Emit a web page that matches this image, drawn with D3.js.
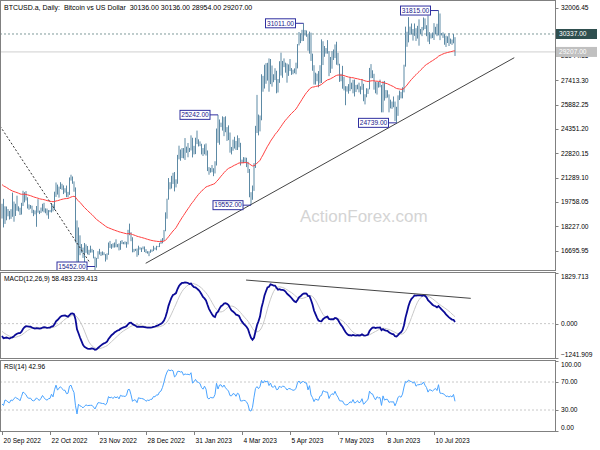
<!DOCTYPE html>
<html><head><meta charset="utf-8">
<script src="https://cdn.jsdelivr.net/npm/d3@7"></script>
<style>
body{margin:0;background:#fff}
text{font-family:"Liberation Sans",Arial,sans-serif;fill:#000}
</style>
</head><body>
<svg id="c" width="600" height="450"></svg>
<script>
// ---------- DATA ----------
const headerText = "BTCUSD.a, Daily:  Bitcoin vs US Dollar  30136.00 30136.00 28954.00 29207.00";
const dateTickLabels = ["20 Sep 2022","22 Oct 2022","23 Nov 2022","28 Dec 2022","31 Jan 2023","4 Mar 2023","5 Apr 2023","7 May 2023","8 Jun 2023","10 Jul 2023"];
const dateTickIndex = [0,32,64,96,128,160,192,224,256,288];
const priceTicks = [32006.45,30475.40,28944.35,27413.30,25882.25,24351.20,22820.15,21289.10,19758.05,18227.00,16695.95];
const macdTicks = [1829.713,0,-1241.909];
const rsiTicks = [100,70,30,0];
const rsiLevels = [70,30];
const bidPrice = 29207.00;
const levelPrice = 30337.00;
const markIndex = [62,144,166,201,263,291];
const markValue = [15452,25242,19552,31011,24739,31815];
const trendUpIdx = [95.8,341.5], trendUpVal = [15890,28843];
const trendDownIdx = [-1.3,58.7], trendDownVal = [24540,15909];
const macdTrendIdx = [162.7,312.5], macdTrendVal = [1575,914];
const macdLabel = "MACD(12,26,9) 58.483 239.413";
const rsiLabel = "RSI(14) 42.96";

// closes before the first visible bar (Jul 1 - Sep 19 2022), used only to seed indicators
const warmupCloses = [19300,19240,19300,20230,20190,20550,21620,21600,21590,20850,19970,19330,20210,20570,20830,21190,20780,22480,23390,23230,23160,22680,22450,22580,21310,21250,22950,23850,23780,23640,23300,
23270,22980,22820,22620,23310,22950,23170,23810,23160,23950,23940,24400,24440,24300,24100,23850,23340,23190,20830,21140,21520,21400,21530,21370,21600,20260,20040,19550,20280,19800,20050,
20130,19950,19830,19990,19800,18840,19290,19320,21360,21650,21830,22400,20180,20240,19700,19800,20130,19420,19540];

const highs = [
19640,19950,19480,19470,19310,19190,19300,20340,19780,19640,20150,
19480,19390,19700,20460,20370,20440,20050,19600,19560,19520,19260,19220,19500,19930,19210,19400,19640,19700,19350,19340,19240,19250,19690,19600,20400,20980,20850,20720,21000,20900,20800,
20620,20790,20390,21300,21470,21360,21050,20670,18590,18150,17650,17100,16880,17170,17080,16980,16740,17000,16800,16730,16300,16230,16650,16800,16610,16640,16580,16470,16520,17200,
17300,17100,17150,17200,17400,17100,17140,17300,17350,17230,17270,17240,18000,18390,17850,17530,16800,16800,16820,17000,16900,16870,16950,16950,16780,16650,16650,
16760,16760,16990,16880,16990,16970,17180,17390,17480,17990,19100,19960,21260,21000,21400,21590,21640,21180,22720,23300,23060,23150,23150,23780,23240,23470,23160,23950,23800,23290,
23800,24250,23700,23570,23420,23150,23380,23440,23000,21950,21900,22080,21880,22320,24380,25242,24950,24750,25150,25100,25150,24470,24580,24130,23220,23680,23860,23600,
23950,23780,23480,22420,22580,22560,22540,22280,21830,20370,20790,22200,24550,26500,25260,25200,27800,27700,28400,28500,28520,28800,28760,28350,27800,28180,28020,27500,28620,29160,28640,
28800,28530,28480,28420,28760,28190,28090,28170,28530,29700,30460,30380,30600,31011,30590,30560,30320,30490,30420,29100,28370,27900,27840,28000,28370,30000,29880,29580,29450,29950,
29260,28890,29260,29360,29680,29850,29150,28460,27830,28330,27640,27050,27040,27180,27620,27270,27450,27470,27130,27150,27270,27040,27500,27200,26540,26920,26900,28200,28440,28050,27830,
27330,27300,27320,27460,27130,27350,27380,26810,26790,26530,26200,26080,26400,26080,25750,26470,26770,26690,26980,28400,30800,30480,31400,30800,31000,30650,31000,30700,30850,31260,
30650,30780,31380,31320,30890,31500,30450,30380,30430,31020,30790,30980,31815,31630,30400,30440,30340,30230,30190,30400,30050,29990,30340,30136];
const lows = [
18710,18150,18370,18600,18850,18650,18690,18820,18510,18870,19200,
19160,18930,18960,19500,19730,19850,19340,19260,19330,19050,18860,18970,18190,19080,18990,19060,19160,19100,19040,18910,18690,19110,19090,19160,19250,20070,20220,20030,20570,20520,20250,
20340,20060,20050,20200,21100,20900,20400,17200,15700,15750,16400,16560,16230,15820,16550,16450,16410,16560,16570,16200,15452,15620,16170,16440,16350,16400,16400,16000,16120,16420,
16860,16800,16880,16880,16900,16900,16700,16740,17100,17090,17080,16870,17080,17660,17280,16580,16590,16670,16300,16400,16750,16600,16770,16600,16530,16500,16340,
16550,16610,16660,16750,16710,16910,16910,17110,17150,17320,17910,18700,19900,20550,20600,20890,20420,20670,20900,22440,22350,22520,22500,22400,22850,22570,22900,23000,22560,22750,
22770,23400,23250,23270,22750,22650,22760,22680,21700,21470,21600,21630,21380,21550,22050,23480,23360,24470,24250,23900,24150,23600,23650,22860,22750,22980,23120,23030,
23030,23200,22050,22200,22200,22260,21950,21580,20050,19552,19890,20450,21900,24100,23950,24200,24900,26700,26900,27200,27400,26700,27180,27020,27300,27430,26600,26650,27260,27720,27580,
28250,27900,27270,27700,28000,27760,27800,27870,27800,28170,29620,29760,29890,29900,30240,30160,29280,29100,28640,28020,27150,27150,27360,26980,27220,27250,28380,28900,29100,29100,
27680,27880,28150,28700,28820,28400,28360,27320,27360,26890,26780,25850,26710,26580,26740,26860,26600,26400,26680,26850,26660,26540,26820,26100,25900,26350,26560,26850,27550,27560,26830,
26600,26520,26960,26980,25400,25400,26140,26290,26330,25400,25650,25620,25720,24850,24739,25180,26180,26280,26280,26660,28280,29530,29810,30280,30300,29920,30220,29900,30050,29600,
30330,30200,30570,30650,30200,29850,29700,30050,30080,29960,30310,30200,30250,29950,30250,30090,29660,29520,29770,29580,29720,29650,29750,28954];
const closes = [
18880,18500,19410,19290,18920,18800,19230,19080,19410,19590,19420,
19310,19040,19630,20340,20160,19960,19530,19420,19450,19140,19060,19150,19380,19180,19070,19270,19550,19330,19130,19050,19170,19200,19570,19330,20090,20770,20290,20600,20810,20630,20490,
20480,20160,20210,21150,21300,20920,20600,18540,15880,17590,17050,16810,16330,16620,16860,16650,16680,16690,16700,16280,15780,16190,16610,16600,16520,16460,16440,16220,16440,17160,
16980,17090,16890,17110,16970,17090,16840,17220,17130,17130,17100,17200,17790,17810,17360,16630,16780,16740,16440,16900,16830,16820,16780,16710,16550,16630,16600,
16670,16680,16850,16830,16950,16940,17130,17190,17450,17940,18850,19930,20950,20870,21170,21130,20680,21070,22670,22780,22710,22920,22630,23050,23010,23080,23030,23740,22830,23130,
23730,23490,23430,23330,22930,22760,23260,22950,21800,21630,21860,21780,21790,22200,24330,23520,24570,24630,24280,24840,24440,24190,23950,23200,23160,23560,23490,23140,
23650,23480,22360,22350,22430,22410,22200,21700,20360,20190,20630,22140,24200,24770,24380,25050,27440,26930,28040,27800,28170,27300,28330,27490,27490,27990,27140,27270,28350,28030,28470,
28450,28200,27800,28170,28170,28030,27920,27950,28330,29650,30230,29890,30400,30480,30320,30320,29440,30390,28820,28250,27280,27820,27590,27510,28300,28420,29480,29340,29240,29230,
28070,28680,29020,28840,29530,28900,28450,27700,27630,27630,27020,26800,26790,26930,27170,27030,27400,26830,26890,27110,26750,26850,27220,26330,26470,26720,26870,28080,27750,27700,27220,
26820,27250,27080,27120,25750,27230,26350,26500,26480,25850,25940,25900,25930,25120,25570,26330,26510,26340,26840,28310,30010,29890,30700,30550,30470,30270,30690,30080,30450,30470,
30590,30620,31150,30770,30500,29900,30350,30290,30170,30410,30620,30380,31470,30330,30300,30250,30140,29860,29910,29800,29910,29800,30090,29207];

// ---------- INDICATORS ----------
const allC = warmupCloses.concat(closes);
const off = warmupCloses.length;
function ema(arr,n){const k=2/(n+1);let e=arr[0];return arr.map((v,i)=>i===0?e:(e=v*k+e*(1-k)));}
const maAll = ema(allC,55);
const e12 = ema(allC,12), e26 = ema(allC,26);
const macdAll = e12.map((v,i)=>v-e26[i]);
const sigAll = macdAll.map((v,i)=>i<8?v:d3.mean(macdAll.slice(i-8,i+1)));
function rsiCalc(arr,n){let g=0,l=0;const out=[];for(let i=0;i<arr.length;i++){if(i===0){out.push(50);continue;}const ch=arr[i]-arr[i-1];const up=Math.max(ch,0),dn=Math.max(-ch,0);if(i<=n){g+=up/n;l+=dn/n;}else{g=(g*(n-1)+up)/n;l=(l*(n-1)+dn)/n;}out.push(l===0?100:100-100/(1+g/l));}return out;}
const rsiAll = rsiCalc(allC,14);
const ma = maAll.slice(off), macd = macdAll.slice(off), sig = sigAll.slice(off), rsi = rsiAll.slice(off);

// ---------- LAYOUT ----------
const svg = d3.select("#c");
const axisX = 555.5;
const P = {main:[0.5,270.5], macd:[272.5,358.5], rsi:[360.5,431.5]};
const x = d3.scaleLinear().domain([0,288]).range([2,434]);
const yP = d3.scaleLinear().domain([16695.95,32006.45]).range([250.5,7.5]);
const yM = d3.scaleLinear().domain([-1241.909,1829.713]).range([358,273]);
const yR = d3.scaleLinear().domain([0,100]).range([431,361]);
const FS = 6.6;

const defs = svg.append("defs");
Object.entries(P).forEach(([k,[t,b]])=>{
  defs.append("clipPath").attr("id","clip-"+k).append("rect").attr("x",0.5).attr("y",t).attr("width",axisX-0.5).attr("height",b-t);
});
defs.append("clipPath").attr("id","clip-under-bid").append("rect").attr("x",556).attr("y",yP(bidPrice)+5).attr("width",44).attr("height",20);

svg.append("rect").attr("width",600).attr("height",450).attr("fill","#fff");

// watermark
svg.append("text").attr("x",300).attr("y",222).attr("font-size",17).style("fill","#d4d4d4").text("ActionForex.com");

// ---------- MAIN PANEL ----------
const gMain = svg.append("g").attr("clip-path","url(#clip-main)");
gMain.append("line").attr("x1",0).attr("x2",axisX).attr("y1",yP(bidPrice)).attr("y2",yP(bidPrice)).attr("stroke","#cfcfcf").attr("stroke-width",1);
gMain.append("line").attr("x1",0).attr("x2",axisX).attr("y1",yP(levelPrice)).attr("y2",yP(levelPrice)).attr("stroke","#7f9a9a").attr("stroke-width",1).attr("stroke-dasharray","2,2");

gMain.append("g").selectAll("line").data(highs).join("line")
  .attr("x1",(d,i)=>x(i)).attr("x2",(d,i)=>x(i))
  .attr("y1",d=>yP(d)).attr("y2",(d,i)=>yP(lows[i]))
  .attr("stroke","#5d8aa5").attr("stroke-width",1);

const line = (ys,arr)=>d3.line().x((d,i)=>x(i)).y(d=>ys(d))(arr);
gMain.append("path").attr("d",line(yP,ma)).attr("fill","none").attr("stroke","#ff4040").attr("stroke-width",1);

// trend lines
gMain.append("line").attr("x1",x(trendUpIdx[0])).attr("y1",yP(trendUpVal[0])).attr("x2",x(trendUpIdx[1])).attr("y2",yP(trendUpVal[1])).attr("stroke","#444").attr("stroke-width",1);
gMain.append("line").attr("x1",x(trendDownIdx[0])).attr("y1",yP(trendDownVal[0])).attr("x2",x(trendDownIdx[1])).attr("y2",yP(trendDownVal[1])).attr("stroke","#333").attr("stroke-width",1).attr("stroke-dasharray","2,2");

// high/low labels
markIndex.forEach((idx,k)=>{
  const bx = x(idx), by = Math.min(yP(markValue[k]), P.main[1]-4);
  gMain.append("line").attr("x1",bx-8).attr("x2",bx).attr("y1",by).attr("y2",by).attr("stroke","#3030a0");
  gMain.append("rect").attr("x",bx-38).attr("y",by-4.5).attr("width",30).attr("height",9).attr("fill","#fff").attr("stroke","#3030a0").attr("stroke-width",1);
  gMain.append("text").attr("x",bx-23).attr("y",by).attr("dy","0.35em").attr("text-anchor","middle").attr("font-size",FS).style("fill","#20208a").text(d3.format(".2f")(markValue[k]));
});

// header
svg.append("text").attr("x",4).attr("y",10).attr("font-size",7).style("white-space","pre").text(headerText);

// ---------- MACD PANEL ----------
const gM = svg.append("g").attr("clip-path","url(#clip-macd)");
gM.append("line").attr("x1",0).attr("x2",axisX).attr("y1",yM(0)).attr("y2",yM(0)).attr("stroke","#c8c8c8").attr("stroke-dasharray","2,2");
gM.append("path").attr("d",line(yM,sig)).attr("fill","none").attr("stroke","#c8c8c8").attr("stroke-width",1);
gM.append("path").attr("d",line(yM,macd)).attr("fill","none").attr("stroke","#0a0a96").attr("stroke-width",1.8);
gM.append("line").attr("x1",x(macdTrendIdx[0])).attr("y1",yM(macdTrendVal[0])).attr("x2",x(macdTrendIdx[1])).attr("y2",yM(macdTrendVal[1])).attr("stroke","#444");
svg.append("text").attr("x",4).attr("y",281).attr("font-size",FS).text(macdLabel);

// ---------- RSI PANEL ----------
const gR = svg.append("g").attr("clip-path","url(#clip-rsi)");
rsiLevels.forEach(v=>gR.append("line").attr("x1",0).attr("x2",axisX).attr("y1",yR(v)).attr("y2",yR(v)).attr("stroke","#c8c8c8").attr("stroke-dasharray","2,2"));
gR.append("path").attr("d",line(yR,rsi)).attr("fill","none").attr("stroke","#4aa3ff").attr("stroke-width",1);
svg.append("text").attr("x",4).attr("y",369).attr("font-size",FS).text(rsiLabel);

// ---------- FRAMES ----------
Object.values(P).forEach(([t,b])=>{
  svg.append("rect").attr("x",0.5).attr("y",t).attr("width",axisX-0.5).attr("height",b-t).attr("fill","none").attr("stroke","#808080").attr("stroke-width",1);
});

// ---------- RIGHT AXES ----------
function rightAxis(scale,ticks,fmt,top,bottom,hidden){
  const g = svg.append("g");
  ticks.forEach(v=>{
    const y = scale(v);
    g.append("line").attr("x1",axisX).attr("x2",axisX+3).attr("y1",Math.round(y)+0.5).attr("y2",Math.round(y)+0.5).attr("stroke","#808080");
    if (hidden && hidden(v)) return;
    let ty = y;
    if (top!==undefined && y-4<top) ty = top+4;
    if (bottom!==undefined && y+4>bottom) ty = bottom-4;
    const t = g.append("text").attr("x",561).attr("y",ty).attr("dy","0.35em").attr("font-size",FS).text(fmt(v));
    if (Math.abs(y-yP(bidPrice))<9 && scale===yP) t.attr("clip-path","url(#clip-under-bid)");
  });
}
// labels covered by the level box are not visible in the chart
rightAxis(yP,priceTicks,d3.format(".2f"),undefined,undefined,v=>Math.abs(yP(v)-yP(levelPrice))<6);
rightAxis(yM,macdTicks,d3.format(".3f"),P.macd[0],P.macd[1]);
rightAxis(yR,rsiTicks,d3.format(".2f"),P.rsi[0],P.rsi[1]);

// price boxes on axis
[[levelPrice,"#2f4f4f","#fff"],[bidPrice,"#c0c0c0","#fff"]].forEach(([v,bg,fg])=>{
  const y = yP(v);
  svg.append("rect").attr("x",556).attr("y",y-5).attr("width",41).attr("height",10).attr("fill",bg);
  svg.append("text").attr("x",559).attr("y",y).attr("dy","0.35em").attr("font-size",FS).style("fill",fg).text(d3.format(".2f")(v));
});

// ---------- DATE AXIS ----------
dateTickIndex.forEach((idx,k)=>{
  const xx = Math.round(x(idx))+0.5;
  svg.append("line").attr("x1",xx).attr("x2",xx).attr("y1",431.5).attr("y2",435).attr("stroke","#808080");
  svg.append("text").attr("x",xx+1).attr("y",443).attr("font-size",FS).text(dateTickLabels[k]);
});
</script>
</body></html>
